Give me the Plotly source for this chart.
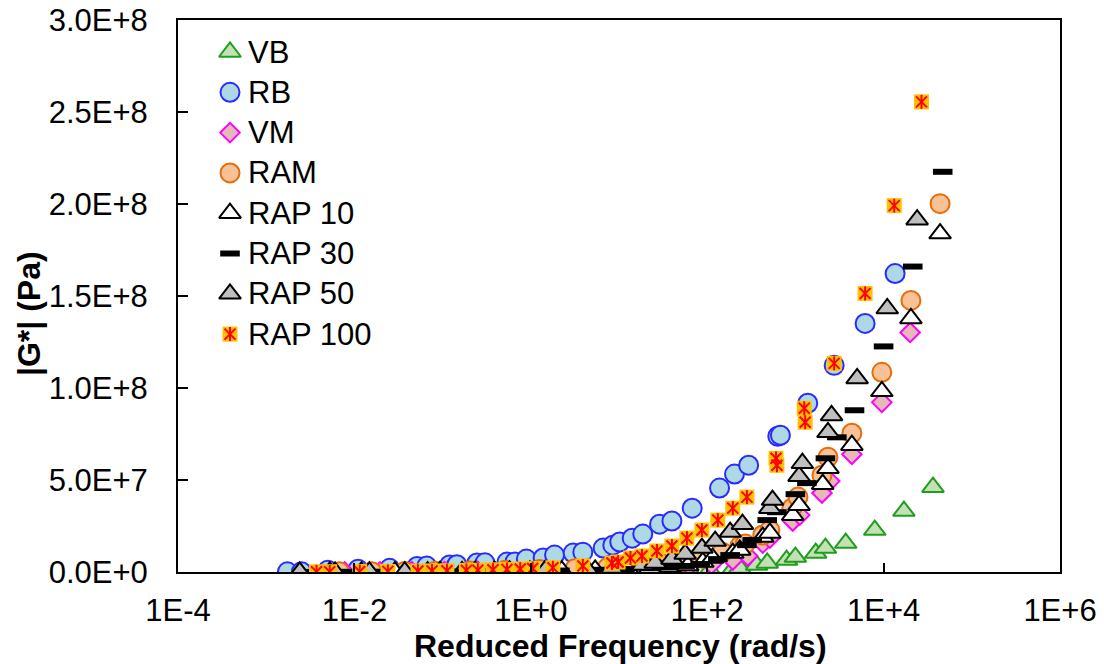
import plotly.graph_objects as go

# Dynamic shear modulus master curves: reduced frequency (rad/s) vs |G*| (Pa)
vb_freq = [1.0e-2, 2.19e-2, 4.79e-2, 0.120, 0.302, 0.759, 1.66, 4.07, 8.91, 19.5, 35.5, 63.1,
           107, 195, 234, 363, 479, 794, 1000, 1700, 2190, 3720, 7940, 17000, 36300]
vb_g = [0.01e6, 0.02e6, 0.03e6, 0.05e6, 0.08e6, 0.12e6, 0.18e6, 0.25e6, 0.35e6, 0.45e6, 0.6e6, 0.8e6,
        1.1e6, 1.6e6, 2.2e6, 3.8e6, 4.9e6, 6.5e6, 8.1e6, 10.3e6, 13.0e6, 15.7e6, 22.8e6, 33.1e6, 46.1e6]

rb_freq = [1.74e-3, 2.51e-3, 5.0e-3, 1.10e-2, 2.51e-2, 5.13e-2, 6.61e-2, 0.120, 0.145, 0.245, 0.302,
           0.537, 0.661, 0.891, 1.38, 1.86, 3.02, 3.89, 6.61, 8.51, 10.2, 14.1, 18.6, 28.8, 39.8,
           67.6, 138, 204, 295, 631, 676, 1380, 2750, 6170, 13500]
rb_g = [0.1e6, 0.15e6, 1.0e6, 1.5e6, 2.0e6, 3.0e6, 3.2e6, 3.8e6, 4.0e6, 4.9e6, 5.0e6,
        5.4e6, 5.5e6, 7.0e6, 7.6e6, 9.2e6, 10.3e6, 10.8e6, 13.0e6, 14.6e6, 16.3e6, 18.4e6, 20.6e6, 26.0e6, 27.7e6,
        34.7e6, 45.6e6, 53.2e6, 58.0e6, 73.8e6, 74.3e6, 91.7e6, 112.3e6, 135.1e6, 162.2e6]

vm_freq = [7.76e-3, 1.95e-2, 4.47e-2, 0.105, 0.251, 0.575, 1.45, 3.39, 7.94, 17.4, 33.1, 63.1,
           112, 195, 288, 427, 513, 933, 1120, 2000, 2450, 4370, 9550, 20000]
vm_g = [0.05e6, 0.1e6, 0.15e6, 0.2e6, 0.3e6, 0.4e6, 0.6e6, 0.8e6, 1.1e6, 1.6e6, 2.2e6, 3.3e6,
        4.3e6, 6.5e6, 8.7e6, 15.7e6, 18.4e6, 27.7e6, 30.9e6, 42.9e6, 49.4e6, 64.0e6, 92.2e6, 130.2e6]

ram_freq = [6.76e-3, 1.58e-2, 3.72e-2, 8.32e-2, 0.204, 0.513, 1.26, 3.16, 7.41, 17.4, 30.2, 51.3,
            87.1, 148, 234, 269, 427, 513, 912, 1070, 2000, 2340, 4370, 9550, 20400, 43700]
ram_g = [0.1e6, 0.15e6, 0.3e6, 0.45e6, 0.6e6, 0.9e6, 1.3e6, 1.8e6, 2.5e6, 3.4e6, 4.6e6, 5.8e6,
         7.5e6, 10.8e6, 14.1e6, 15.2e6, 20.1e6, 22.8e6, 34.7e6, 40.7e6, 52.6e6, 62.4e6, 75.4e6, 108.5e6,
         147.6e6, 200.2e6]

rap10_freq = [5.25e-3, 1.20e-2, 2.88e-2, 6.76e-2, 0.166, 0.389, 0.977, 2.24, 5.37, 12.6, 22.4, 38.0,
              60.3, 89.1, 115, 195, 234, 427, 513, 933, 1100, 2040, 2340, 4370, 9550, 20400, 43700]
rap10_g = [0.05e6, 0.1e6, 0.15e6, 0.2e6, 0.3e6, 0.4e6, 0.55e6, 0.8e6, 1.1e6, 1.6e6, 2.2e6, 2.8e6,
           3.5e6, 5.4e6, 7.6e6, 10.3e6, 12.0e6, 19.0e6, 21.2e6, 30.9e6, 36.3e6, 47.7e6, 56.4e6, 68.9e6,
           98.2e6, 137.8e6, 183.9e6]

rap30_freq = [3.55e-3, 8.91e-3, 2.19e-2, 5.50e-2, 0.138, 0.347, 0.851, 2.14, 5.37, 11.7, 22.4, 35.5,
              56.2, 83.2, 132, 182, 282, 324, 479, 617, 1000, 1350, 2190, 2950, 4680, 10000, 21400, 46800]
rap30_g = [0.05e6, 0.1e6, 0.15e6, 0.2e6, 0.3e6, 0.4e6, 0.55e6, 0.8e6, 1.2e6, 1.6e6, 2.2e6, 2.7e6,
           3.3e6, 4.3e6, 7.0e6, 9.2e6, 14.6e6, 17.4e6, 28.2e6, 32.5e6, 42.3e6, 48.3e6, 61.8e6, 73.2e6,
           87.9e6, 122.6e6, 166.0e6, 217.5e6]

rap50_freq = [2.40e-3, 6.03e-3, 1.48e-2, 3.72e-2, 9.33e-2, 0.234, 0.575, 1.45, 4.37, 8.32, 18.6, 25.7,
              39.8, 56.2, 87.1, 123, 182, 251, 513, 550, 1100, 1200, 2340, 2570, 5010, 11000, 24000]
rap50_g = [0.05e6, 0.1e6, 0.15e6, 0.2e6, 0.3e6, 0.4e6, 0.6e6, 0.9e6, 1.4e6, 2.2e6, 3.8e6, 4.9e6,
           7.1e6, 9.8e6, 13.0e6, 16.8e6, 21.7e6, 26.0e6, 34.7e6, 39.1e6, 52.1e6, 59.1e6, 75.9e6, 85.1e6,
           105.2e6, 143.2e6, 191.5e6]

rap100_freq = [3.72e-3, 5.25e-3, 1.15e-2, 2.40e-2, 5.25e-2, 7.59e-2, 0.112, 0.186, 0.251, 0.372, 0.537,
               0.759, 1.05, 1.78, 3.89, 8.32, 9.77, 13.5, 18.2, 26.9, 39.8, 58.9, 87.1, 132, 195, 282,
               603, 617, 1260, 1290, 2750, 6170, 13200, 26900]
rap100_g = [0.1e6, 0.15e6, 0.25e6, 0.35e6, 0.5e6, 0.6e6, 0.7e6, 0.9e6, 1.0e6, 1.2e6, 1.4e6,
            1.6e6, 1.9e6, 2.3e6, 3.3e6, 4.9e6, 5.4e6, 7.6e6, 8.7e6, 11.4e6, 14.1e6, 18.4e6, 22.8e6, 28.2e6,
            34.7e6, 40.7e6, 61.8e6, 58.0e6, 89.0e6, 81.4e6, 113.4e6, 151.4e6, 199.1e6, 255.5e6]

x_tick_vals = [1e-4, 1e-2, 1e0, 1e2, 1e4, 1e6]
x_tick_text = ["1E-4", "1E-2", "1E+0", "1E+2", "1E+4", "1E+6"]
y_tick_vals = [0, 5e7, 1e8, 1.5e8, 2e8, 2.5e8, 3e8]
y_tick_text = ["0.0E+0", "5.0E+7", "1.0E+8", "1.5E+8", "2.0E+8", "2.5E+8", "3.0E+8"]

FONT = "Liberation Sans, Arial, sans-serif"

# marker styles per series (list of layered markers for composite symbols)
styles = {
    "VB": [dict(symbol="triangle-up", size=19, color="#C5E0B4", line=dict(color="#1E9E1E", width=2))],
    "RB": [dict(symbol="circle", size=19, color="#ADD8E6", line=dict(color="#2A2AFF", width=2))],
    "VM": [dict(symbol="diamond", size=15, color="#E6B8B7", line=dict(color="#FF00FF", width=2))],
    "RAM": [dict(symbol="circle", size=19, color="#F8C196", line=dict(color="#E46C0A", width=2))],
    "RAP 10": [dict(symbol="triangle-up", size=19, color="#FFFFFF", line=dict(color="#000000", width=2))],
    "RAP 30": [dict(symbol="line-ew", size=14, color="#000000", line=dict(color="#000000", width=6))],
    "RAP 50": [dict(symbol="triangle-up", size=19, color="#BFBFBF", line=dict(color="#000000", width=2))],
    "RAP 100": [dict(symbol="square", size=15, color="#FFC000", line=dict(width=0)),
                dict(symbol="x-thin-open", size=11, color="#FF0000", line=dict(color="#FF0000", width=2)),
                dict(symbol="line-ns-open", size=10, color="#FF0000", line=dict(color="#FF0000", width=2))],
}

series = [
    ("VB", vb_freq, vb_g),
    ("RB", rb_freq, rb_g),
    ("VM", vm_freq, vm_g),
    ("RAM", ram_freq, ram_g),
    ("RAP 10", rap10_freq, rap10_g),
    ("RAP 30", rap30_freq, rap30_g),
    ("RAP 50", rap50_freq, rap50_g),
    ("RAP 100", rap100_freq, rap100_g),
]

# plot-area geometry (pixels)
W, H = 1104, 664
ML, MR, MT, MB = 178, 44, 20, 92
plot_w = W - ML - MR
plot_h = H - MT - MB


def px_to_paper(px, py):
    return (px - ML) / plot_w, (H - MB - py) / plot_h


fig = go.Figure()

for name, fx, gy in series:
    for layer in styles[name]:
        fig.add_trace(go.Scatter(x=fx, y=gy, mode="markers", name=name, showlegend=False,
                                 marker=layer, hoverinfo="x+y+name"))

# legend drawn on an overlay axis spanning the plot area in [0, 1] units
leg_sym_px, leg_txt_px = 230, 246
leg_top_px, leg_step_px = 52, 40.3
annotations = []
for i, (name, _, _) in enumerate(series):
    xs, yy = px_to_paper(leg_sym_px, leg_top_px + i * leg_step_px)
    xt, _ = px_to_paper(leg_txt_px, 0)
    for layer in styles[name]:
        fig.add_trace(go.Scatter(x=[xs], y=[yy], mode="markers", xaxis="x2", yaxis="y2",
                                 showlegend=False, hoverinfo="skip", marker=layer))
    annotations.append(dict(x=xt, y=yy, xref="paper", yref="paper", text=name,
                            showarrow=False, xanchor="left", yanchor="middle",
                            font=dict(family=FONT, size=31, color="#000000")))

# axis titles
tx, ty = px_to_paper(620, 646)
annotations.append(dict(x=tx, y=ty, xref="paper", yref="paper", text="<b>Reduced Frequency (rad/s)</b>",
                        showarrow=False, xanchor="center", yanchor="middle",
                        font=dict(family=FONT, size=32, color="#000000")))
yx, yy = px_to_paper(29, 314)
annotations.append(dict(x=yx, y=yy, xref="paper", yref="paper", text="<b>|G*| (Pa)</b>",
                        textangle=-90, showarrow=False, xanchor="center", yanchor="middle",
                        font=dict(family=FONT, size=32, color="#000000")))

fig.update_layout(
    width=W, height=H,
    margin=dict(l=ML, r=MR, t=MT, b=MB, autoexpand=False),
    paper_bgcolor="#FFFFFF", plot_bgcolor="#FFFFFF",
    font=dict(family=FONT, size=31, color="#000000"),
    showlegend=False,
    xaxis=dict(type="log", range=[-4, 6], tickvals=x_tick_vals, ticktext=x_tick_text,
               ticks="inside", ticklen=9, tickwidth=2, tickcolor="#000000",
               showline=True, linecolor="#000000", linewidth=2, mirror=True,
               showgrid=False, zeroline=False, ticklabelstandoff=10, automargin=False,
               tickfont=dict(family=FONT, size=31)),
    yaxis=dict(range=[0, 3e8], tickvals=y_tick_vals, ticktext=y_tick_text,
               ticks="inside", ticklen=10, tickwidth=2, tickcolor="#000000",
               showline=True, linecolor="#000000", linewidth=2, mirror=True,
               showgrid=False, zeroline=False, ticklabelstandoff=22, automargin=False,
               tickfont=dict(family=FONT, size=31)),
    xaxis2=dict(overlaying="x", range=[0, 1], visible=False, fixedrange=True, automargin=False),
    yaxis2=dict(overlaying="y", range=[0, 1], visible=False, fixedrange=True, automargin=False),
    annotations=annotations,
)

fig.write_html("out.html")
